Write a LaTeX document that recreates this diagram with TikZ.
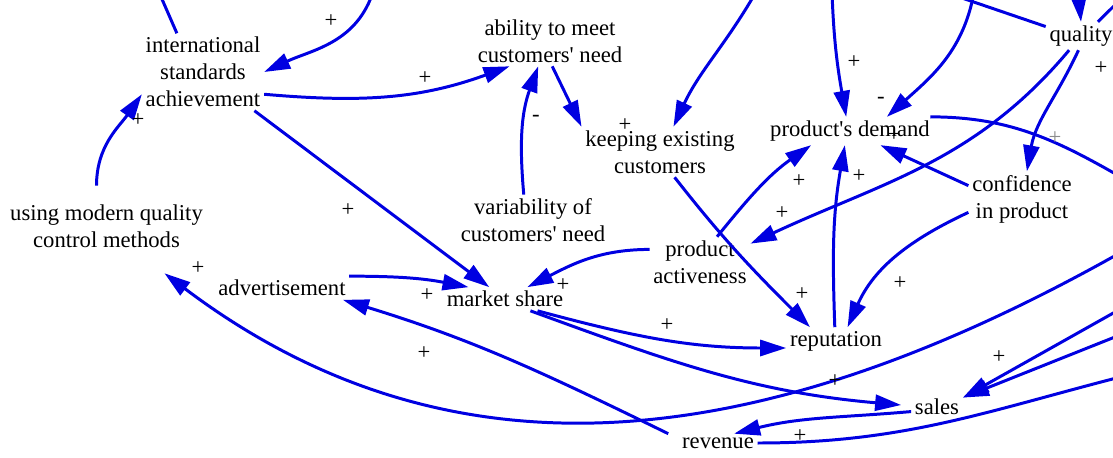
\documentclass[tikz,border=0pt]{standalone}
\usepackage{fontspec}
\setmainfont{Liberation Serif}
\usetikzlibrary{arrows.meta}
\definecolor{linkblue}{RGB}{0,0,225}
\tikzset{
  var/.style={font=\fontsize{12.9}{15.3}\selectfont, align=center, inner sep=2pt},
  pol/.style={font=\fontsize{12.9}{15.3}\selectfont, inner sep=0pt},
  link/.style={draw=linkblue, line width=1.7pt, -{Triangle[length=0.52cm,width=0.32cm]}},
  stub/.style={draw=linkblue, line width=1.7pt}
}
\begin{document}
\begin{tikzpicture}
\useasboundingbox (0,0) rectangle (22.26,9.14);
\clip (0,0) rectangle (22.26,9.14);
\node[var] (intl) at (4.06,7.70) {international\\standards\\achievement};
\node[var] (ability) at (11.0,8.32) {ability to meet\\customers\textquotesingle{} need};
\node[var] (keeping) at (13.2,6.10) {keeping existing\\customers};
\node[var] (demand) at (17.0,6.52) {product\textquotesingle{}s demand};
\node[var] (quality) at (21.62,8.42) {quality};
\node[var] (confidence) at (20.44,5.16) {confidence\\in product};
\node[var] (modern) at (2.13,4.62) {using modern quality\\control methods};
\node[var] (variability) at (10.66,4.74) {variability of\\customers\textquotesingle{} need};
\node[var] (activeness) at (14.0,3.90) {product\\activeness};
\node[var] (advert) at (5.64,3.38) {advertisement};
\node[var] (market) at (10.10,3.16) {market share};
\node[var] (reputation) at (16.72,2.32) {reputation};
\node[var] (sales) at (18.74,1.00) {sales};
\node[var] (revenue) at (14.36,0.28) {revenue};
\coordinate (tlA) at (3.16,9.34);
\coordinate (tA) at (7.44,9.24);
\coordinate (tB) at (15.12,9.30);
\coordinate (tC) at (16.64,9.30);
\coordinate (tD) at (19.48,9.30);
\coordinate (tE) at (21.52,9.74);
\coordinate (tF) at (22.5,9.24);
\coordinate (tG) at (19.24,9.18);
\coordinate (rA) at (22.8,5.38);
\coordinate (rB) at (22.8,1.70);
\coordinate (rC) at (22.8,4.31);
\coordinate (rD) at (22.8,3.18);
\coordinate (rE) at (22.8,2.60);
\draw[stub] (intl.124) -- (tlA);
\draw[link] (tA) to[out=-110,in=25] (intl.east);
\draw[link] (intl.-20) to[out=-5,in=200] (ability.212);
\draw[link] (intl.-37) -- (market.143);
\draw[link] ([xshift=-0.2cm,yshift=0.3cm]modern.north) to[out=90,in=235] (intl.200);
\draw[link] (variability.110) to[out=95,in=-110] (ability.-115);
\draw[link] (ability.-85) -- (keeping.north west);
\draw[link] (tB) to[out=-120,in=65] (keeping.62);
\draw[link] (tC) to[out=-88,in=100] (demand.105);
\draw[link] (tD) to[out=-100,in=42] (demand.21);
\draw[link] (tE) -- (quality.north);
\draw[stub] (quality.40) -- (tF);
\draw[stub] (quality.165) -- (tG);
\draw[link] (quality.-130) to[out=-130,in=25] (activeness.20);
\draw[link] (quality.-100) to[out=-115,in=80] (confidence.80);
\draw[stub] (demand.10) to[out=0,in=150] (rA);
\draw[link] (confidence.166) -- (demand.-25);
\draw[link] (confidence.194) to[out=205,in=66] (reputation.50);
\draw[link] (activeness.56) to[out=51,in=215] (demand.200);
\draw[link] (reputation.95) to[out=92,in=-100] (demand.-110);
\draw[link] (keeping.-60) to[out=-52,in=135] (reputation.152);
\draw[link] (activeness.166) to[out=180,in=27] (market.28);
\draw[link] (advert.10) to[out=0,in=169] (market.162);
\draw[link] (market.-20) to[out=-15,in=180] (reputation.188);
\draw[link] (market.-25) to[out=-20,in=175] ([xshift=-0.2cm,yshift=0.04cm]sales.west);
\draw[link] ([xshift=-0.2cm]revenue.north west) to[out=154,in=-17] (advert.-11);
\draw[link] (sales.190) to[out=185,in=14] (revenue.30);
\draw[stub] (revenue.east) to[out=0,in=194] (rB);
\draw[link] (rC) .. controls (15.42,0.05) and (9.12,-0.72) .. ([xshift=1.16cm,yshift=-0.44cm]modern.south);
\draw[link] (rD) -- (sales.20);
\draw[link] (rE) -- (sales.20);
\node[pol] at (6.62,8.72) {+};
\node[pol] at (8.5,7.58) {+};
\node[pol] at (6.96,4.94) {+};
\node[pol] at (2.76,6.74) {+};
\node[pol] at (10.72,6.78) {-};
\node[pol] at (12.5,6.64) {+};
\node[pol] at (17.08,7.90) {+};
\node[pol] at (17.62,7.14) {-};
\node[pol] at (22.02,7.78) {+};
\node[pol,black!45] at (21.1,6.38) {+};
\node[pol] at (15.64,4.88) {+};
\node[pol] at (15.98,5.52) {+};
\node[pol] at (17.18,5.62) {+};
\node[pol] at (17.88,6.44) {+};
\node[pol] at (18.0,3.48) {+};
\node[pol] at (16.04,3.26) {+};
\node[pol] at (11.26,3.44) {+};
\node[pol] at (8.54,3.24) {+};
\node[pol] at (13.34,2.64) {+};
\node[pol] at (16.7,1.52) {+};
\node[pol] at (8.48,2.08) {+};
\node[pol] at (16.0,0.42) {+};
\node[pol] at (3.96,3.78) {+};
\node[pol] at (19.98,2.00) {+};
\node[pol] at (15.62,9.22) {+};
\end{tikzpicture}
\end{document}
